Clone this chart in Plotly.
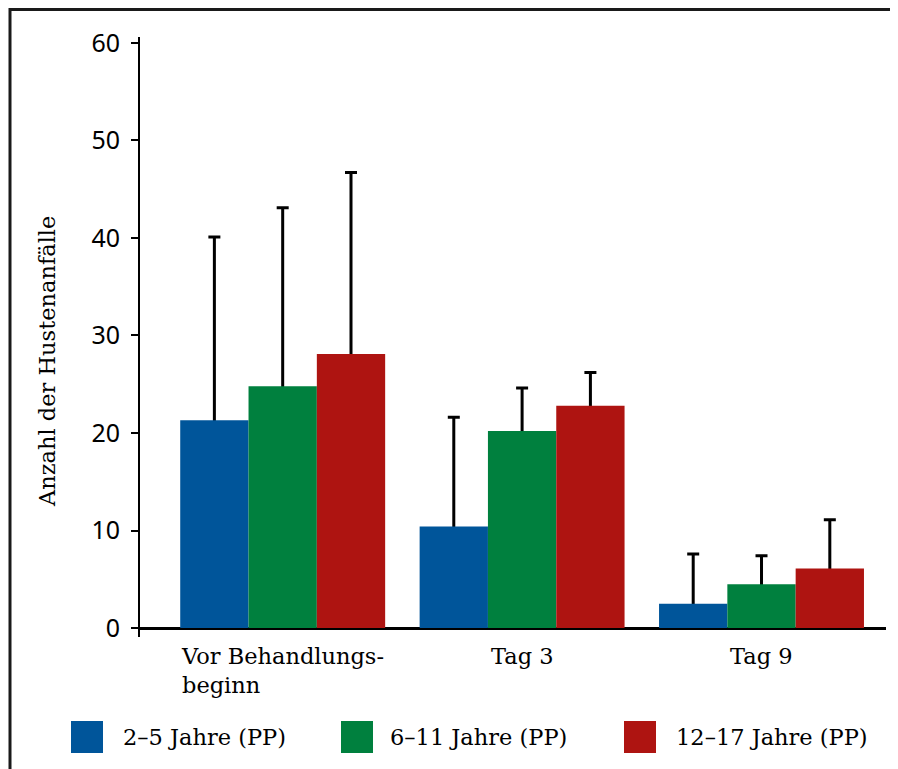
import plotly.graph_objects as go

# ---- data ----
categories = ["Vor Behandlungs-<br>beginn", "Tag 3", "Tag 9"]
series_names = ["2–5 Jahre (PP)", "6–11 Jahre (PP)", "12–17 Jahre (PP)"]
values_2_5 = [21.3, 10.4, 2.5]
values_6_11 = [24.8, 20.2, 4.5]
values_12_17 = [28.1, 22.8, 6.1]
err_2_5 = [18.8, 11.2, 5.1]
err_6_11 = [18.3, 4.4, 2.9]
err_12_17 = [18.6, 3.4, 5.0]
y_ticks = [0, 10, 20, 30, 40, 50, 60]

colors = ["#00559A", "#00803E", "#AE1411"]
serif = "DejaVu Serif"
sans = "Noto Sans"
FS = 22.5

OFF = 8  # page body margin
W, H = 890, 761
L, R, T, B = 132, 12, 29, 132
PW, PH = W - L - R, H - T - B


def px(xp):
    """screen-pixel x (page) -> paper x"""
    return (xp - OFF - L) / PW


def py(yp):
    """screen-pixel y (page) -> paper y"""
    return (H - B - (yp - OFF)) / PH


fig = go.Figure()
for i, (name, vals, errs, col) in enumerate(zip(series_names,
                                              [values_2_5, values_6_11, values_12_17],
                                              [err_2_5, err_6_11, err_12_17], colors)):
    # error-bar carrier (drawn first, lower whisker ends on the baseline, hidden by the bar)
    fig.add_trace(go.Bar(
        x=categories, y=vals, offsetgroup=str(i), showlegend=False, hoverinfo="skip",
        marker=dict(color="rgba(0,0,0,0)", line=dict(width=0)),
        error_y=dict(type="data", array=errs, arrayminus=vals, symmetric=False,
                     color="black", thickness=3, width=6),
    ))
    # visible bar
    fig.add_trace(go.Bar(
        x=categories, y=vals, name=name, offsetgroup=str(i), showlegend=False,
        marker=dict(color=col, line=dict(width=0)),
    ))

fig.update_layout(
    width=W, height=H,
    margin=dict(l=L, r=R, t=T, b=B, pad=0),
    paper_bgcolor="white", plot_bgcolor="white",
    barmode="group", bargap=0.144, bargroupgap=0,
    xaxis=dict(range=[-0.596, 2.52], showticklabels=False, ticks="", showline=False,
               showgrid=False, zeroline=False),
    yaxis=dict(range=[-0.92, 60.6], tickvals=y_ticks, ticks="outside", ticklen=7,
               tickwidth=2, tickcolor="black", showline=True, linecolor="black",
               linewidth=2, showgrid=False, zeroline=True, zerolinecolor="black",
               zerolinewidth=3, ticklabelstandoff=6,
               tickfont=dict(family=sans, size=25, color="black")),
)

annotations = []
# category labels
for c in categories:
    annotations.append(dict(x=c, xref="x", y=py(641), yref="paper", text=c,
                            showarrow=False, xanchor="center", yanchor="top", align="left",
                            font=dict(family=serif, size=FS, color="black")))
# y axis title
annotations.append(dict(x=px(47), xref="paper", y=py(362), yref="paper",
                        text="Anzahl der Hustenanfälle", textangle=-90, showarrow=False,
                        xanchor="center", yanchor="middle",
                        font=dict(family=serif, size=FS, color="black")))

shapes = []
# custom legend
leg_sq_x = [71, 341, 624]
leg_tx_x = [121, 388, 674]
for name, col, sx, tx in zip(series_names, colors, leg_sq_x, leg_tx_x):
    shapes.append(dict(type="rect", xref="paper", yref="paper", x0=px(sx), x1=px(sx + 32),
                       y0=py(753), y1=py(721), fillcolor=col, line=dict(width=0)))
    annotations.append(dict(x=px(tx), xref="paper", y=py(737), yref="paper", text=name,
                            showarrow=False, xanchor="left", yanchor="middle",
                            font=dict(family=serif, size=FS, color="black")))

# frame (left, top, right)
shapes.append(dict(type="path", xref="paper", yref="paper",
                   path=f"M {px(10)} {py(772)} L {px(10)} {py(9.5)} L {px(895)} {py(9.5)} L {px(895)} {py(772)}",
                   line=dict(color="#1a1a1a", width=3)))

fig.update_layout(annotations=annotations, shapes=shapes)
fig.write_html("out.html")
